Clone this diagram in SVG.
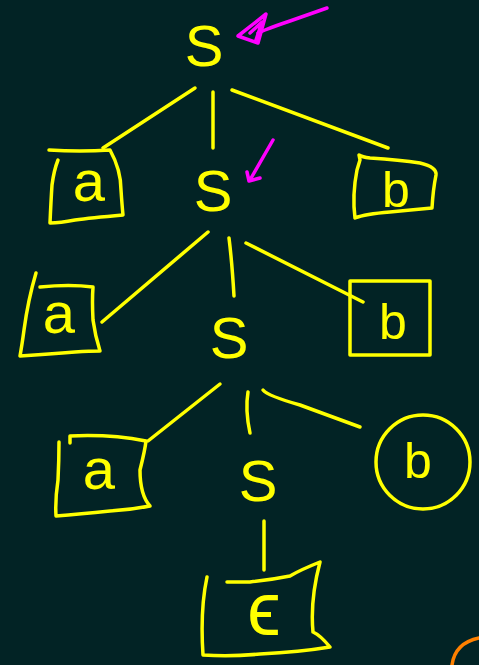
<svg xmlns="http://www.w3.org/2000/svg" width="479" height="665" viewBox="0 0 479 665">
<style>
.ink{fill:none;stroke:#ffff00;stroke-width:3.5;stroke-linecap:round;stroke-linejoin:round}
.pen{fill:none;stroke:#ff00ff;stroke-width:3.5;stroke-linecap:round;stroke-linejoin:round}
.t{fill:#ffff00;font-family:"Liberation Sans",Arial,sans-serif;text-anchor:middle}
.s{font-size:58px}
.l{font-size:50px}
.a{font-size:58px}
.e{font-size:76px}
</style>
<rect width="479" height="665" fill="#022325"/>
<g id="connectors">
<path class="ink" d="M195,88 L103,148"/>
<path class="ink" d="M213,92 L213,148"/>
<path class="ink" d="M232,90 L388,148"/>
<path class="ink" d="M208,232 L102,322"/>
<path class="ink" d="M229,238 Q232,262 234,296"/>
<path class="ink" d="M246,243 L363,302"/>
<path class="ink" d="M220,384 L148,441"/>
<path class="ink" d="M248,392 Q245,410 250,433"/>
<path class="ink" d="M263,390 Q268,396 300,405 L360,427"/>
<path class="ink" d="M264,521 L264,570"/>
</g>
<g id="annot-top">
<path class="pen" d="M327,8 Q310,14 290,21 Q275,26 265,30 L258,33"/>
<path class="pen" d="M238,36 L266,14 L258,43 Z M250,33 L262,22 L256,40"/>
</g>
<g id="annot-mid">
<path class="pen" d="M273,140 L250,180 M247,172 L249,181 L260,178"/>
</g>
<g id="S0"><text class="t s" x="204" y="66">S</text></g>
<g id="a1">
<path class="ink" d="M49,150 Q80,152 110,150 Q121,170 121,190 Q122,205 123,215 Q90,218 75,220 Q60,223 50,223 Q51,200 52,185 Q54,170 58,160"/>
<text class="t a" x="89" y="201">a</text>
</g>
<g id="S1"><text class="t s" x="213" y="211">S</text></g>
<g id="b1">
<path class="ink" d="M360,160 L359,155 Q362,157 370,158 Q400,160 420,163 Q437,167 436,175 Q433,190 432,208 Q410,210 390,212 Q365,214 355,218 Q352,195 357,170 L360,160"/>
<text class="t l" x="396" y="207">b</text>
</g>
<g id="a2">
<path class="ink" d="M36,273 Q28,300 24,330 Q22,345 20,356 Q50,354 75,352 Q90,351 100,351 Q95,335 93,320 Q92,300 93,287 Q70,284 40,287"/>
<text class="t a" x="59" y="333">a</text>
</g>
<g id="S2"><text class="t s" x="229" y="358">S</text></g>
<g id="b2">
<rect class="ink" x="350" y="281" width="80" height="74"/>
<text class="t l" x="393" y="339">b</text>
</g>
<g id="a3">
<path class="ink" d="M59,442 Q59,460 58,480 Q55,500 56,516 Q80,514 110,511 Q130,510 150,506 Q140,495 140,470 Q145,450 146,441 Q110,434 70,436 L70,443"/>
<text class="t a" x="99" y="489">a</text>
</g>
<g id="S3"><text class="t s" x="258" y="501">S</text></g>
<g id="b3">
<circle class="ink" cx="423" cy="462" r="47"/>
<text class="t l" x="418" y="478">b</text>
</g>
<g id="eps">
<path class="ink" d="M207,577 Q200,610 203,655 Q230,657 260,654 Q300,652 330,647 Q320,635 313,632 Q310,600 320,562 Q300,570 290,576 Q270,580 250,582 Q235,582 227,582"/>
<text class="t e" x="264" y="635">ϵ</text>
</g>
<path d="M452,665 Q455,643 479,638" fill="none" stroke="#ff8000" stroke-width="3.5" stroke-linecap="round"/>
</svg>
